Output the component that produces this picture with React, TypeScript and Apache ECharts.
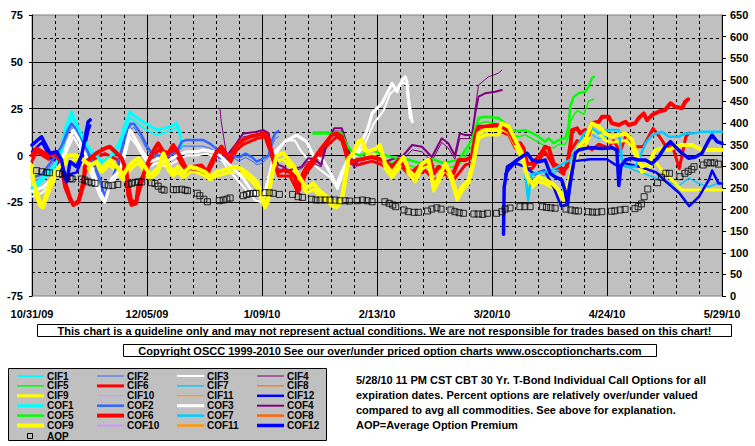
import React, { useEffect, useRef } from "react";
import * as echarts from "echarts";

// ---------- DATA (x = days since 10/31/09, y = % over/under) ----------
const xTickDays = [0, 35, 70, 105, 140, 175, 210];

const cif1 = [[0,-20],[1.4,-17],[4,-12],[7,-6],[8.5,-2],[10.3,10],[12.1,20],[13.1,17],[14.6,10],[16.6,3],[18.2,0],[21.7,-5],[23.7,-3],[26.8,5],[28.3,13],[29.8,20],[30.8,19],[32.9,16],[35.4,13],[38,11],[40,12],[42,13],[44,15],[45,11],[45.6,4]];
const cof1 = [[0,-17.5],[1.4,-15],[4,-10],[7,-5],[8.5,0],[10.3,15],[12.1,23.4],[13.1,19],[14.6,12.7],[16.6,5.6],[18.2,2],[21.7,-3.3],[23.7,-1],[26.8,7.4],[28.3,16.3],[29.8,23.4],[30.8,21.6],[32.9,19],[35.4,16.3],[38,13.6],[40,14.5],[42,15.4],[44,17.2],[45,12.7],[45.6,5.6]];
const cif2 = [[0,-14],[3,-12],[6,-5],[9,3],[11,12],[12,15],[13,13],[15,6],[17,0],[19,-7],[21,-16],[22,-23],[24,-16],[26,-7],[28,5],[30,14],[31,15],[33,10],[35,3],[37,-2],[40,-1],[42,-2],[44,0],[45.6,5],[47,5],[52,5],[54,4],[56,2],[57,-3],[59,-3],[61,-1],[63,-3],[65,-1],[67,-3],[68.4,-5],[70,-4],[72,-1],[73,5],[74,9],[75,10]];
const cof2 = [[0,-12],[3,-10],[6,-3],[9,5],[11,14],[12,17],[13,15],[15,8],[17,2],[19,-5],[21,-14],[22,-22],[24,-14],[26,-5],[28,8],[30,17],[31,17],[33,12],[35,5],[37,0],[40,0],[42,0],[44,2],[45.6,7.4],[47,8.3],[52,8.3],[54,6.5],[56,3.8],[57,-1.5],[59,-1],[61,0],[63,-1],[65,1],[67,-1],[68.4,-3.3],[70,-2],[72,0],[73,8],[74,11.8],[75,13]];
const cif3 = [[0,-22],[3,-20],[6,-15],[9,-5],[11,4],[12.6,10],[14,6],[16,-2],[18,-10],[20.7,-22],[22,-25],[24,-15],[27,-9],[29.8,10],[32,5],[34,-1],[36,-6],[38,-4],[41,-6],[44,-3],[47,0],[50,0],[53,1],[56,-1],[58,-3],[60,-8],[62,-12],[64,-16],[66,-20],[68,-24],[70,-25],[72,-15],[74,0],[77,8],[80,8],[82,2],[85,-4],[88,-8],[91,-12],[93,-18],[95,-8],[98,-2],[101,5],[104,17],[107,24],[109,33],[111,36],[113,39],[114,38],[115,20]];
const cof3 = [[0,-19],[3.4,-17],[7.5,-10],[9.5,0],[11,7.4],[12.6,13.6],[14.1,9.2],[16.1,1.2],[18.2,-6.8],[20.7,-19.3],[22.2,-24.7],[24.3,-12.2],[26.8,-7.8],[29.8,13.6],[31.9,7.4],[33.9,1.2],[35.9,-3.3],[38.4,-1.5],[41,-3.3],[44,0],[47.1,2],[50.1,2],[52.1,2.9],[55.2,2],[57.2,0],[60.3,-5.3],[62.3,-8.7],[64.3,-12.2],[66.3,-17.5],[68.4,-21],[70.4,-22.9],[72,-12],[74,2],[77,7.4],[80.5,10.9],[83.6,7.4],[85.6,0],[88.6,-2.4],[90.7,-9],[92.7,-16],[94,-10],[95.8,-3.3],[98.3,0],[100.7,8.3],[102.3,15],[103.5,22.5],[106.5,27.9],[108.6,35],[109.6,38.5],[111.1,34],[111.6,36.7],[113.1,41.2],[113.6,42],[114.1,39.5],[114.6,29.6],[115.7,18]];
const cif4 = [[57.2,25],[57.6,18],[58.5,8],[59.3,0],[62,4],[64.3,10],[68,11],[70.4,12],[72,10],[73,0],[75,-7],[78,-9],[82,-7],[84,-3],[88,-6],[89.7,5],[92,13],[94.3,13],[95.5,6],[96.5,0],[98,-7],[100,-4],[103.5,-3],[106,-4],[109.6,-4],[113,-2],[115.7,3],[118.7,2],[121.7,-3],[124.7,7],[126.7,4],[128.7,-2],[130.2,9],[133.9,9],[134.9,25],[135.9,37.6],[138.9,42],[141.9,43.9],[143,45.6]];
const cof4 = [[59.3,0],[62,6],[64.3,11.8],[68,12.5],[70.4,13.6],[72,12],[73,2],[75,-5],[76.5,-6],[78,-8],[80,-7],[82,-6],[84,-1.5],[86,-2],[88,-5],[89.7,7.4],[92,14.5],[94.3,14.5],[95.5,8],[96.5,2],[98,-5],[100,-2],[103.5,-0.8],[106,-2],[108,-3],[109.6,-2],[111.6,-0.8],[113,0],[115.7,5.6],[118.7,4.7],[121.7,-0.8],[124.7,9.2],[126.7,6.5],[128.7,0],[130.2,11.8],[131.7,11],[133.9,11],[134.9,22.5],[135.9,31.4],[137.9,33.2],[141,34],[143,35]];
const cif5 = [[85.6,12.5],[94.3,12.5],[96,3],[98,-1],[100,-2],[103.5,0],[106,-2],[110,-4],[114,-5],[118,-7],[122,-5],[125,-7],[128,-6],[129.9,-5],[133.9,5],[135.9,17],[137.9,18],[142,17],[144,15],[146.1,11],[148.1,10],[150.1,11],[152.2,9],[154.2,7],[156.2,5],[158.8,4],[160.3,6],[162.3,6],[163.3,10],[163.8,18],[165,22],[166,24],[168,22],[169.4,29],[171,30]];
const cof5 = [[85.6,11.8],[94.3,11.8],[96,5],[98,1],[100,0],[103.5,2.9],[106,1],[110,-1],[114,-2],[118,-4],[122,-2],[125,-4],[128,-3],[129.9,-2.4],[133.9,8.3],[135.9,20],[137.9,20.7],[142,20],[144,17.2],[146.1,13.6],[148.1,13],[150.1,13.6],[152.2,12],[154.2,10],[156.2,7.4],[157.3,9.2],[158.8,6.5],[160.3,8.3],[162.3,9.2],[163.3,15.4],[163.8,26],[164.9,31.4],[166.4,33.2],[168.4,34],[169.4,36.7],[170.4,41.2],[171,42]];
const cif6 = [[0,-3],[1.4,2],[5,-2],[7,-1],[9,-8],[10,-17],[11.6,-24],[12.6,-26],[14.1,-24],[15.6,-13],[17.1,-4],[19.7,-1],[22.2,1],[25.8,-2],[28.8,-10],[30.3,-24],[31.7,-25],[33.9,-12],[35.4,-6],[38.4,3],[41.5,-1],[43,3],[45.6,-5],[47.6,-9],[51.6,-8],[53.2,-11],[56.2,0],[57.7,2],[60.3,-4],[62.3,3],[64.3,6],[68.4,9],[70.9,10],[72.9,0],[75,-11],[78.5,-11],[81,-20],[83.6,-9],[87.7,0],[89.7,5],[92.7,10],[94.3,8],[96.3,-4],[99.3,-5],[103.5,-3],[106.5,-5],[109.6,-9],[112,-5],[115.7,-12],[119.7,-8],[122.3,-13],[125.8,-10],[128.3,-13],[131.9,-5],[133.9,-4],[134.9,7],[135.9,13],[141,14],[145.1,11],[147.1,4],[149.6,1],[150.7,-7],[152.2,-7],[156.2,2],[158.8,-6],[161.8,-10],[163.8,2],[165.9,8],[168.4,6],[170.4,3],[172.5,6],[175.5,4],[177,8],[179,2],[181,11.8],[183,4.7],[186,4.7],[189,14.5],[191,10],[193,4.7],[195,4.7],[197,-7],[199,10],[200,12]];
const cof6 = [[0,0],[1.4,3.8],[4.9,0],[7,1],[9,-4],[10,-14],[11.6,-22.7],[12.6,-26.4],[14.1,-25],[15.6,-16],[16.1,-6],[17.1,-2.4],[19.7,1.3],[22.2,3.8],[23.7,4.7],[25.8,1.2],[27.3,-1.5],[28.8,-8.7],[29.3,-21],[30.3,-26.4],[31.7,-25.5],[32.4,-16],[33.9,-10.4],[35.4,-3.3],[37.4,3.8],[38.4,6.5],[40,2],[41.5,1.2],[43,5.6],[44,2.9],[45.6,-2.4],[46.6,-6],[47.6,-6.8],[49.1,-6],[51.6,-5.3],[53.2,-8.7],[54.7,-3.3],[56.2,2],[57.7,4.7],[59.3,0],[60.3,-1.5],[62.3,5.6],[64.3,8.3],[66.3,10],[68.4,10.9],[70.9,11.8],[71.9,9.2],[72.9,2],[74,-6.8],[75,-8.7],[76.5,-7.8],[78.5,-8.7],[80,-11.4],[81,-18.4],[82,-11.4],[83.6,-6],[85.6,-2.4],[87.7,2.9],[89.7,7.4],[91.2,10.9],[92.7,11.8],[94.3,10],[95.3,4.7],[96.3,-1.5],[97.3,-3.3],[99.3,-2.4],[103.5,-0.8],[106.5,-2.4],[109.6,-6],[111.6,-2.4],[113.5,-6],[115.7,-9],[117.7,-6],[119.7,-4.4],[121.2,-2.4],[122.3,-9.5],[123.8,-6],[125.8,-7.8],[128.3,-9.5],[129.9,-2.4],[131.9,-2.4],[133.9,-0.8],[134.9,10],[135.9,15.4],[137.9,15.4],[141,16.3],[143,15.4],[145.1,13],[146.1,10],[147.1,6.5],[148.6,6.5],[149.6,3.8],[150.7,-4.4],[152.2,-4.4],[154.2,-0.8],[156.2,4.7],[157.3,3.8],[158.8,-4.4],[160.3,-6],[161.8,-7.8],[162.8,-6],[163.8,4.7],[164.4,13.6],[165.9,14.5],[166.9,11.8],[168.4,13.6],[169.4,10.9],[170.4,17.2],[172.5,18],[173.5,20.7],[175.5,20.7],[176.5,17.2],[178.6,16.3],[180.6,18],[181.6,16.3],[183.6,17.2],[184.6,19.9],[186.2,22.5],[187.2,18.9],[188.7,21.6],[190.7,23.4],[192.7,24.3],[194.3,27.9],[195.8,26],[197.8,25.2],[198.8,28.7],[199.7,30]];
const cif7 = [[150,-10],[151,-20],[152,-12],[158,-10],[164,-4],[168,8],[170.4,11],[172.5,9],[174.5,10],[178.6,10],[179.6,-5],[183.6,-8],[186.7,-10],[190,-12],[193,-14],[197,-16],[200,-12],[203,-15],[206,-16.7],[210,-14]];
const cof7 = [[150,-8],[151,-24],[152,-10],[158,-8],[164,-2],[168,11.8],[170.4,14.5],[172.5,11.8],[174.5,13.6],[178.6,13.6],[179.6,-2.4],[180.6,-6],[183.6,-6],[184.6,-2.4],[186.7,6.5],[188.7,10.9],[191.7,12.7],[193.8,10],[196.8,10],[198.8,11.8],[201.3,11.8],[203.9,12.7],[210,12.7]];
const cif8: number[][] = [];
const cof8: number[][] = [];
const cif9 = [[0,-10],[0.4,-18],[2.4,-27],[3.4,-28],[5.5,-18],[7.5,-10],[9.5,-6],[11,-3],[13.6,-2],[15.6,-5],[17.7,-8],[19.7,-6],[21.2,-9],[23.7,-5],[25.8,-9],[27.8,-13],[29.3,-9],[30.8,-6],[32.4,-4],[34.4,-9],[35.9,-13],[38.4,-9],[40,-2],[41.5,-8],[43,-11],[44.5,-9],[46,-12],[48.1,-9],[50.1,-9],[52.7,-11],[54.2,-13],[56.2,-11],[58.2,-10],[60.3,-9],[62.3,-9],[64.3,-10],[66.9,-14],[68.4,-17],[69.9,-24],[70.9,-28],[71.9,-25],[72.9,-13],[74.5,-3],[76.5,-2],[79.5,-8],[81.6,-15],[83.6,-20],[85.6,-18],[87.7,-22],[89.7,-24],[91.2,-27],[92.7,-28],[94.3,-25],[95.3,-15],[96.3,-4],[97.8,-1],[99.3,5],[100.3,6],[101.9,0],[103.4,0],[104.9,1],[105.9,3],[107.5,-7],[109.6,-12],[111.6,-7],[113.1,-3],[114.6,-10],[116.7,-14],[118.7,-7],[120.7,-5],[122.3,-19],[123.8,-14],[125.8,-7],[127.8,-14],[129.4,-24],[130.9,-19],[132.9,-15],[134.4,-5],[135.9,9],[137.9,11],[142,11],[143,14],[145.1,12],[147.1,5],[149.1,-2],[150.7,-14],[152.2,-17],[154.2,-14],[156.2,-15],[158.3,-17],[160.3,-20],[161.8,-24],[163.3,-17],[164.9,-5],[166.4,2],[168.4,5],[170.4,13],[172.5,12],[174.5,8],[176.5,7],[180.6,8],[182.6,5],[184.6,-5],[185.6,-9],[187.7,-7],[189.7,-3],[191.7,-8],[193.8,-11.4],[197.8,-18.4],[200.9,-18.4],[203.9,-18.4],[210,-18.4]];
const cof9 = [[0,-5.3],[0.4,-14],[2.4,-24.7],[3.4,-26.4],[5.5,-14],[7.5,-7.8],[9.5,-3.3],[11,0],[13.6,0],[15.6,-2.4],[17.7,-5.3],[19.7,-3.3],[21.2,-6.8],[23.7,-2.4],[25.8,-6],[27.8,-10.4],[29.3,-6],[30.8,-3.3],[32.4,-1.5],[34.4,-6],[35.9,-10.4],[38.4,-6.8],[40,1.2],[41.5,-5.3],[43,-8.7],[44.5,-6],[46,-9.5],[48.1,-6],[50.1,-6.8],[52.7,-8.7],[54.2,-11.4],[56.2,-8.7],[58.2,-7.8],[60.3,-6.8],[62.3,-6],[64.3,-7.8],[66.9,-11.4],[68.4,-14],[69.9,-21],[70.9,-27.3],[71.9,-22.9],[72.9,-10.4],[74.5,0],[76.5,1.2],[79.5,-5.3],[81.6,-12.2],[83.6,-17.5],[85.6,-14.9],[87.7,-19.3],[89.7,-21.9],[91.2,-24.7],[92.7,-25.5],[94.3,-22.9],[95.3,-12.2],[96.3,-1.5],[97.8,1.2],[99.3,7.4],[100.3,8.3],[101.9,2],[103.4,2.9],[104.9,3.8],[105.9,5.6],[107.5,-4.4],[109.6,-9.5],[111.6,-4.4],[113.1,-0.8],[114.6,-7.8],[116.7,-11.4],[118.7,-4.4],[120.7,-2.4],[122.3,-16.7],[123.8,-11.4],[125.8,-4.4],[127.8,-11.4],[129.4,-22],[130.9,-16.7],[132.9,-13],[134.4,-2.4],[135.9,11.8],[137.9,13.6],[142,13.6],[143,17.2],[145.1,15.4],[147.1,8.3],[149.1,1.2],[150.7,-11.4],[152.2,-14.9],[154.2,-11.4],[156.2,-13],[158.3,-14.9],[160.3,-18.4],[161.8,-22],[163.3,-14.9],[164.9,-2.4],[166.4,4.7],[168.4,8.3],[170.4,17.2],[172.5,15.4],[174.5,11.8],[176.5,10],[180.6,11.8],[182.6,8.3],[184.6,-2.4],[185.6,-6],[187.7,-4.4],[189.7,2.9],[191.7,3.8],[193.8,2.9],[195.8,4.7],[197.8,5.6],[200.9,5.6],[203.9,2.9],[210,2.9]];
const cif10: number[][] = [];
const cof10: number[][] = [];
const cif11: number[][] = [];
const cof11: number[][] = [];
const cif12 = [[0,2],[3,7],[5.5,-1],[7.5,-3],[9,-8],[10,-15],[11.6,-10],[13.6,-9],[15.1,-3],[16.1,5],[17.1,13],[17.7,16],[80,null],[144,-10],[147,-4],[150,-6],[153,-10],[156,-8],[159,-18],[161,-27],[163,-26],[165,-3],[170,-2],[175,-2],[178.5,-6],[180,-4],[185,-6],[190,-9],[193,-14],[197,-20],[200,-27],[203,-22],[206,-13],[207,-8],[209,-15],[210,-15]];
const cof12 = [[0,5.6],[2.9,10],[5.5,1.2],[7.5,2],[9,-2.4],[10,-12],[10.6,-14],[11.6,-3.3],[13.6,-6],[15.1,0],[16.1,9],[17.1,18],[17.7,19],[80,null],[143.5,-42],[143.7,-17],[144.7,-6],[145.7,-5],[148,-2],[150.7,1.2],[152.2,-2.4],[154.2,-3.3],[156.2,-2.4],[157.7,-9.5],[159.2,-11.4],[161.2,-13],[162.2,-18.4],[163,-26],[163.5,-17],[165.4,1.2],[166.4,2.9],[168.4,3.8],[170.4,4.2],[173.5,3.8],[176.5,4.2],[178,2.9],[178.6,-16],[179.2,-6],[180.6,-2.4],[182.6,-1.5],[184.6,-2.4],[186.7,-2.4],[188.7,-4.4],[190.7,-0.8],[192.7,4.7],[194.3,7.4],[195.8,4.7],[197.8,1.2],[199.9,-1.5],[201.9,-0.8],[203.9,1.2],[206,8.3],[207,10.9],[208.5,7.4],[210,6.5]];

// Average Option Premium (right axis)
const aopDays = [1.4,3,4.5,5.3,8.3,9.3,10.6,11.6,12.2,15.1,16.1,17.1,18.2,19.2,22.2,23.2,24.6,26.1,29.3,30.3,31.4,32.4,33.4,36.4,37.4,38.4,39.5,40.2,43,44,45.6,46.6,47.3,50.3,51.1,52.3,53.4,57,58.2,59.3,60.3,64.3,65.3,66.3,67.4,68.2,70.9,72.2,73.4,75.3,79.3,81,82.3,85.1,86.4,87.7,89.2,90.7,92.2,93.7,95.3,96.6,99,100.6,102,103.5,107.4,108.7,109.8,110.7,113.2,114.5,116.3,117.6,120.4,121.7,123.2,124.5,127.5,128.7,130,131.3,134.5,135.8,137.2,138.6,141.4,143,144,145.5,148.5,150,151.6,155.4,156.6,157.9,159.2,162.5,164,165.3,166.3,169.3,170.6,171.9,173.4,176.4,177.4,179,180.5,183.5,184.5,185.5,186.3,187.4,190.4,191.6,192.9,194,197.2,198.7,199.7,200.8,201.5,204.3,205.5,206.6,207.7,208.9];
const aopValues = [290,287.5,286,285,283,281.5,276,272,270.6,270.6,268,264,262,260.7,257.5,255,256,258,258,260.7,263,264,264,262,260,254,247,245,246,246,247,245,243.6,237.6,232,223.7,218,220.4,222,224,226.7,232,235,236.6,237.6,237.6,239,239,237.6,235,235,229.7,228,224,222,222,222,222,222,220.4,220.4,219.7,220.4,222,220.4,218,218,214.4,210.5,206.6,199,195,193.6,193.6,196.6,201,204,201,199,195,192.7,191.3,189.7,189.7,189,191.3,191.3,195,201,203.6,206.6,206.6,206.6,206.6,205,204,203,201,199,197,196.6,195,194,194,195,196,197,199,200.5,202,206.6,213,229.7,247.5,262,274.6,283.8,283.8,276,283.8,288.5,293,299,303,308,308,308,305];

const seriesNames = ["CIF1","CIF2","CIF3","CIF4","CIF5","CIF6","CIF7","CIF8","CIF9","CIF10","CIF11","CIF12","COF1","COF2","COF3","COF4","COF5","COF6","COF7","COF8","COF9","COF10","COF11","COF12"];
const seriesData = [cif1,cif2,cif3,cif4,cif5,cif6,cif7,cif8,cif9,cif10,cif11,cif12,cof1,cof2,cof3,cof4,cof5,cof6,cof7,cof8,cof9,cof10,cof11,cof12];
const seriesColors = ["#00FFFF","#3366FF","#FFFFFF","#800080","#00FF00","#FF0000","#00CCFF","#FF6600","#FFFF00","#CC99FF","#FF9900","#0000FF","#00FFFF","#3366FF","#FFFFFF","#800080","#00FF00","#FF0000","#00CCFF","#FF6600","#FFFF00","#CC99FF","#FF9900","#0000FF"];
const seriesWidths = [2,1,2,1,1.5,3,1.5,1,3,1,1,2.5,3,2.5,3,2,2.5,4,2.5,2.5,4,2,2.5,3.5];

const disclaimer = "This chart is a guideline only and may not represent actual conditions. We are not responsible for trades based on this chart!";
const copyright = "Copyright OSCC 1999-2010 See our over/under priced option charts www.osccoptioncharts.com";
const notes = [
  "5/28/10 11 PM CST CBT 30 Yr. T-Bond Individual Call Options for all",
  "expiration dates. Percent options are relatively over/under valued",
  "compared to avg all commodities. See above for explanation.",
  "AOP=Average Option Premium",
];

const FONT = "Liberation Sans, Arial, sans-serif";
const BASE = Date.UTC(2009, 9, 31);
function dayLabel(v: number) {
  const d = new Date(BASE + Math.round(v) * 86400000);
  return `${d.getUTCMonth() + 1}/${String(d.getUTCDate()).padStart(2, "0")}/${String(d.getUTCFullYear() % 100).padStart(2, "0")}`;
}

export default function App() {
  const ref = useRef<HTMLDivElement>(null);
  useEffect(() => {
    if (!ref.current) return;
    const chart = echarts.init(ref.current, undefined, { renderer: "svg" });

    const lineSeries = seriesNames.map((name, i) => ({
      name,
      type: "line",
      xAxisIndex: 0,
      yAxisIndex: 0,
      symbol: "none",
      showSymbol: false,
      connectNulls: false,
      silent: true,
      data: seriesData[i].map((p) => [p[0], p[1] === null ? "-" : p[1]]),
      lineStyle: { color: seriesColors[i], width: seriesWidths[i], cap: "round", join: "round" },
      itemStyle: { color: seriesColors[i] },
      z: 2,
    }));

    const aopSeries = {
      name: "AOP",
      type: "scatter",
      yAxisIndex: 1,
      symbol: "rect",
      symbolSize: 6,
      silent: true,
      data: aopDays.map((d, i) => [d, aopValues[i]]),
      itemStyle: { color: "rgba(0,0,0,0)", borderColor: "#000000", borderWidth: 1 },
      z: 5,
    };

    const LEG_FONT = `bold 10px ${FONT}`;
    const legendEls: any[] = [
      { type: "rect", shape: { x: 8.5, y: 368.5, width: 318, height: 72 }, style: { fill: "#C0C0C0", stroke: "#000000", lineWidth: 1 } },
    ];
    const colLineX = [17, 97, 177, 257];
    const colTextX = [47, 127, 207, 287];
    for (let i = 0; i < 24; i++) {
      const row = Math.floor(i / 4);
      const col = i % 4;
      const y = 376 + row * 9.9;
      legendEls.push({ type: "line", shape: { x1: colLineX[col], y1: y, x2: colLineX[col] + 27, y2: y }, style: { stroke: seriesColors[i], lineWidth: seriesWidths[i] } });
      legendEls.push({ type: "text", x: colTextX[col], y, style: { text: seriesNames[i], font: LEG_FONT, lineHeight: 9, fill: "#000", textVerticalAlign: "middle", textAlign: "left" } });
    }
    legendEls.push({ type: "rect", shape: { x: 27.5, y: 433.5, width: 5, height: 5 }, style: { fill: "none", stroke: "#000", lineWidth: 1 } });
    legendEls.push({ type: "text", x: 47, y: 436, style: { text: "AOP", font: LEG_FONT, lineHeight: 9, fill: "#000", textVerticalAlign: "middle", textAlign: "left" } });

    const boxEls: any[] = [
      { type: "rect", shape: { x: 37.5, y: 324.5, width: 694, height: 12 }, style: { fill: "#FFFFFF", stroke: "#000", lineWidth: 1 } },
      { type: "text", x: 384.5, y: 331, style: { text: disclaimer, font: `bold 11px ${FONT}`, fill: "#000", textAlign: "center", textVerticalAlign: "middle" } },
      { type: "rect", shape: { x: 123.5, y: 344.5, width: 533, height: 12 }, style: { fill: "#FFFFFF", stroke: "#000", lineWidth: 1 } },
      { type: "text", x: 390, y: 351, style: { text: copyright, font: `bold 11px ${FONT}`, fill: "#000", textAlign: "center", textVerticalAlign: "middle" } },
    ];
    notes.forEach((t, i) => {
      boxEls.push({ type: "text", x: 356, y: 379.5 + i * 15, style: { text: t, font: `bold 11px ${FONT}`, fill: "#000", textAlign: "left", textVerticalAlign: "middle" } });
    });

    chart.setOption({
      animation: false,
      backgroundColor: "#FFFFFF",
      textStyle: { fontFamily: FONT },
      grid: { left: 32, top: 15, width: 690, height: 281, show: true, backgroundColor: "#C0C0C0", borderColor: "#808080", borderWidth: 1, containLabel: false },
      xAxis: {
        type: "value",
        min: 0,
        max: 210,
        interval: 35,
        axisLine: { show: false },
        axisTick: { show: false },
        axisLabel: { formatter: (v: number) => (xTickDays.includes(v) ? dayLabel(v) : ""), fontSize: 11, fontWeight: "bold", color: "#000", margin: 12, fontFamily: FONT },
        splitLine: { show: true, showMinLine: false, showMaxLine: false, lineStyle: { color: "#000", width: 1 } },
        minorTick: { show: false, splitNumber: 5 },
        minorSplitLine: { show: true, lineStyle: { color: "#000", width: 1, type: [3, 3] } },
      },
      yAxis: [
        {
          type: "value",
          min: -75,
          max: 75,
          interval: 25,
          position: "left",
          axisLine: { show: true, lineStyle: { color: "#000" } },
          axisTick: { show: true, length: 3, lineStyle: { color: "#000" } },
          axisLabel: { fontSize: 11, fontWeight: "bold", color: "#000", margin: 9, fontFamily: FONT },
          splitLine: { show: true, showMinLine: false, showMaxLine: false, lineStyle: { color: "#000", width: 1 } },
          minorTick: { show: false, splitNumber: 2 },
          minorSplitLine: { show: true, lineStyle: { color: "#000", width: 1, type: [3, 3] } },
        },
        {
          type: "value",
          min: 0,
          max: 650,
          interval: 50,
          position: "right",
          axisLine: { show: true, lineStyle: { color: "#000" } },
          axisTick: { show: true, length: 4, lineStyle: { color: "#000" } },
          axisLabel: { fontSize: 11, fontWeight: "bold", color: "#000", margin: 8, fontFamily: FONT },
          splitLine: { show: false },
        },
      ],
      series: [...lineSeries, aopSeries],
      graphic: [...legendEls, ...boxEls],
    });
    return () => chart.dispose();
  }, []);
  return <div ref={ref} style={{ position: "fixed", left: 0, top: 0, width: 755, height: 446 }} />;
}
